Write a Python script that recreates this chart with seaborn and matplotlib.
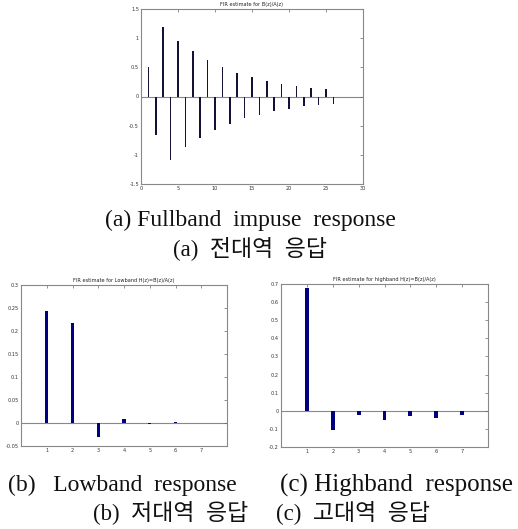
import numpy as np
import pandas as pd
import matplotlib
matplotlib.use("Agg")
import matplotlib.pyplot as plt
import seaborn as sns

# ---- data ----
full_n = list(range(1, 27))
full_vals = [0.50, -0.657, 1.19, -1.086, 0.96, -0.874, 0.783, -0.714, 0.63, -0.571,
             0.509, -0.469, 0.41, -0.377, 0.337, -0.309, 0.274, -0.257, 0.217, -0.206,
             0.183, -0.171, 0.149, -0.143, 0.126, -0.12]
low_n = [1, 2, 3, 4, 5, 6, 7]
low_vals = [0.243, 0.218, -0.030, 0.008, -0.003, 0.0015, 0.0]
high_n = [1, 2, 3, 4, 5, 6, 7]
high_vals = [0.68, -0.106, -0.024, -0.053, -0.029, -0.040, -0.024]

title_full = "FIR estimate for B(z)/A(z)"
title_low = "FIR estimate for Lowband H(z)=B(z)/A(z)"
title_high = "FIR estimate for highband H(z)=B(z)/A(z)"

cap_a_en = "(a) Fullband  impuse  response"
cap_a_ko = "(a)  전대역  응답"
cap_b_en = "(b)   Lowband  response"
cap_b_ko = "(b)  저대역  응답"
cap_c_en = "(c) Highband  response"
cap_c_ko = "(c)  고대역  응답"

sns.set_style("white")
plt.rcParams['font.family'] = ['DejaVu Sans']
plt.rcParams['xtick.direction'] = 'in'
plt.rcParams['ytick.direction'] = 'in'

fig = plt.figure(figsize=(5.18, 5.29), dpi=100)

W, H = 518, 529
def ax_at(l, t, r, b):
    return fig.add_axes([l / W, 1 - b / H, (r - l) / W, (b - t) / H])

ax_full = ax_at(141, 9, 363, 184)
ax_low = ax_at(21, 285, 227, 446)
ax_high = ax_at(281, 284, 488, 447)

bar_col = "#000080"

def style(ax, title, xlim, ylim, xticks, yticks):
    ax.axhline(0, color="#888888", lw=0.8, zorder=0)
    ax.set_xlim(*xlim)
    ax.set_ylim(*ylim)
    ax.set_xticks(xticks)
    ax.set_yticks(yticks)
    ax.set_yticklabels(["%g" % round(v, 4) for v in yticks])
    ax.set_xticklabels([str(v) for v in xticks])
    ax.tick_params(axis='both', labelsize=3.6, length=2, width=0.5, color="#666666",
                   top=True, right=True, pad=1.5, labelcolor="#333333")
    for s in ax.spines.values():
        s.set_color("#888888")
        s.set_linewidth(0.8)
    ax.set_xlabel("")
    ax.set_ylabel("")
    ax.set_title(title, fontsize=3.6, pad=2, color="#222222")

df_full = pd.DataFrame({"n": full_n, "v": full_vals})
sns.barplot(data=df_full, x="n", y="v", native_scale=True, width=0.24,
            color="#121238", saturation=1, ax=ax_full, linewidth=0)
style(ax_full, title_full, (0, 30), (-1.5, 1.5), [0, 5, 10, 15, 20, 25, 30],
      [-1.5, -1, -0.5, 0, 0.5, 1, 1.5])

df_low = pd.DataFrame({"n": low_n, "v": low_vals})
sns.barplot(data=df_low, x="n", y="v", native_scale=True, width=0.12,
            color=bar_col, saturation=1, ax=ax_low, linewidth=0)
style(ax_low, title_low, (0, 8), (-0.05, 0.3), low_n,
      [-0.05, 0, 0.05, 0.1, 0.15, 0.2, 0.25, 0.3])

df_high = pd.DataFrame({"n": high_n, "v": high_vals})
sns.barplot(data=df_high, x="n", y="v", native_scale=True, width=0.15,
            color=bar_col, saturation=1, ax=ax_high, linewidth=0)
style(ax_high, title_high, (0, 8), (-0.2, 0.7), high_n,
      [-0.2, -0.1, 0, 0.1, 0.2, 0.3, 0.4, 0.5, 0.6, 0.7])

fam = ['Liberation Serif', 'Noto Sans CJK KR']
cap_kw = dict(family=fam, color="#111111", ha="center", va="center")
fig.text(250 / W, 1 - 220 / H, cap_a_en, fontsize=17, **cap_kw)
fig.text(250 / W, 1 - 248 / H, cap_a_ko, fontsize=16.5, **cap_kw)
fig.text(122 / W, 1 - 485 / H, cap_b_en, fontsize=17, **cap_kw)
fig.text(397 / W, 1 - 485 / H, cap_c_en, fontsize=18, **cap_kw)
fig.text(171 / W, 1 - 512 / H, cap_b_ko, fontsize=16.5, **cap_kw)
fig.text(353 / W, 1 - 512 / H, cap_c_ko, fontsize=16.5, **cap_kw)

fig.savefig("out.png", dpi=100, facecolor="white")
